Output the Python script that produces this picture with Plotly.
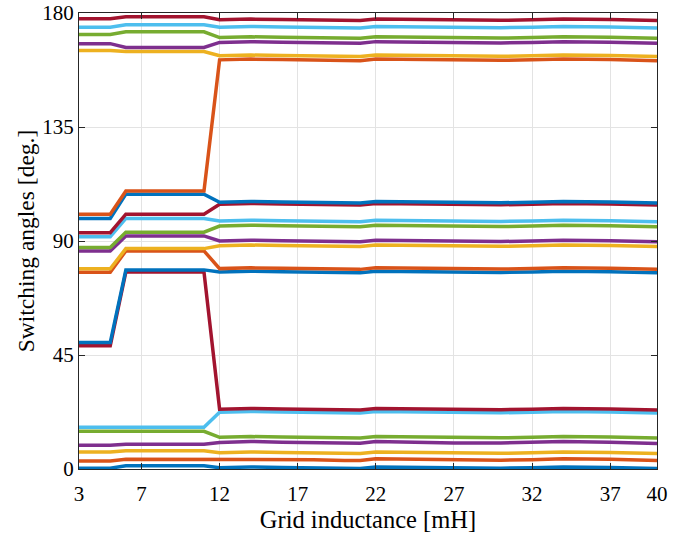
import plotly.graph_objects as go

# Grid inductance sample points [mH]
inductance = [3, 5, 6, 11, 12, 14, 16, 18, 20, 21, 22, 24, 27, 30, 32, 33, 34, 37, 38, 40]

# Switching angles [deg.], one list per angle (alpha_1 ... alpha_21)
alpha_01 = [0.3, 0.3, 1.3, 1.3, 0.5, 0.8, 0.6, 0.5, 0.2, 0.2, 0.8, 0.6, 0.3, 0.3, 0.5, 0.8, 0.8, 0.6, 0.5, 0.2]
alpha_02 = [3.2, 3.2, 3.8, 3.8, 3.7, 4.0, 3.8, 3.7, 3.4, 3.4, 4.0, 3.8, 3.5, 3.5, 3.7, 4.0, 4.0, 3.8, 3.7, 3.4]
alpha_03 = [6.7, 6.7, 7.2, 7.2, 6.4, 6.7, 6.5, 6.4, 6.1, 6.1, 6.7, 6.5, 6.2, 6.2, 6.4, 6.7, 6.7, 6.5, 6.4, 6.1]
alpha_04 = [9.4, 9.4, 9.8, 9.8, 10.5, 10.9, 10.6, 10.5, 10.2, 10.2, 10.9, 10.6, 10.3, 10.3, 10.5, 10.9, 10.9, 10.6, 10.5, 10.1]
alpha_05 = [14.9, 14.9, 14.9, 14.9, 12.5, 12.8, 12.6, 12.5, 12.2, 12.2, 12.8, 12.6, 12.3, 12.3, 12.5, 12.8, 12.8, 12.6, 12.5, 12.2]
alpha_06 = [16.5, 16.5, 16.5, 16.5, 22.4, 22.7, 22.5, 22.4, 22.1, 22.1, 22.7, 22.5, 22.2, 22.2, 22.4, 22.7, 22.7, 22.5, 22.4, 22.1]
alpha_07 = [48.7, 48.7, 77.8, 77.8, 23.6, 23.9, 23.7, 23.6, 23.3, 23.3, 23.9, 23.7, 23.4, 23.4, 23.6, 23.9, 23.9, 23.7, 23.6, 23.3]
alpha_08 = [49.9, 49.9, 78.6, 78.6, 77.8, 78.1, 77.9, 77.8, 77.5, 77.5, 78.1, 77.9, 77.6, 77.6, 77.8, 78.1, 78.1, 77.9, 77.8, 77.5]
alpha_09 = [77.7, 77.7, 86.1, 86.1, 79.1, 79.4, 79.2, 79.1, 78.8, 78.8, 79.4, 79.2, 78.9, 78.9, 79.1, 79.4, 79.4, 79.2, 79.1, 78.8]
alpha_10 = [79.0, 79.0, 87.0, 87.0, 88.1, 88.4, 88.2, 88.1, 87.8, 87.8, 88.4, 88.2, 87.9, 87.9, 88.1, 88.4, 88.4, 88.2, 88.1, 87.8]
alpha_11 = [86.1, 86.1, 92.0, 92.0, 90.0, 90.3, 90.1, 90.0, 89.7, 89.7, 90.3, 90.1, 89.8, 89.8, 90.0, 90.3, 90.3, 90.1, 90.0, 89.7]
alpha_12 = [87.4, 87.4, 93.5, 93.5, 95.9, 96.2, 96.0, 95.9, 95.6, 95.6, 96.2, 96.0, 95.7, 95.7, 95.9, 96.2, 96.2, 96.0, 95.9, 95.6]
alpha_13 = [91.7, 91.7, 98.9, 98.9, 97.9, 98.2, 98.0, 97.9, 97.6, 97.6, 98.2, 98.0, 97.7, 97.7, 97.9, 98.2, 98.2, 98.0, 97.9, 97.6]
alpha_14 = [93.3, 93.3, 100.6, 100.6, 104.5, 104.8, 104.6, 104.5, 104.2, 104.2, 104.8, 104.6, 104.3, 104.3, 104.5, 104.8, 104.8, 104.6, 104.5, 104.2]
alpha_15 = [98.9, 98.9, 108.5, 108.5, 105.3, 105.6, 105.4, 105.3, 105.0, 105.0, 105.6, 105.4, 105.1, 105.1, 105.3, 105.6, 105.6, 105.4, 105.3, 105.0]
alpha_16 = [100.6, 100.6, 109.7, 109.7, 161.5, 161.8, 161.6, 161.5, 161.2, 161.2, 161.8, 161.6, 161.3, 161.3, 161.5, 161.8, 161.8, 161.6, 161.5, 161.2]
alpha_17 = [165.2, 165.2, 164.8, 164.8, 163.1, 163.4, 163.2, 163.1, 162.8, 162.8, 163.4, 163.2, 162.9, 162.9, 163.1, 163.4, 163.4, 163.2, 163.1, 162.8]
alpha_18 = [167.9, 167.9, 166.4, 166.4, 168.4, 168.7, 168.5, 168.4, 168.1, 168.1, 168.7, 168.5, 168.2, 168.2, 168.4, 168.7, 168.7, 168.5, 168.4, 168.1]
alpha_19 = [171.5, 171.5, 172.6, 172.6, 170.3, 170.6, 170.4, 170.3, 170.0, 170.0, 170.6, 170.4, 170.1, 170.1, 170.3, 170.6, 170.6, 170.4, 170.3, 170.0]
alpha_20 = [174.4, 174.4, 175.4, 175.4, 174.4, 174.7, 174.5, 174.4, 174.1, 174.1, 174.7, 174.5, 174.2, 174.2, 174.4, 174.7, 174.7, 174.5, 174.4, 174.1]
alpha_21 = [177.7, 177.7, 178.5, 178.5, 177.3, 177.6, 177.4, 177.3, 177.0, 177.0, 177.6, 177.4, 177.1, 177.1, 177.3, 177.6, 177.6, 177.4, 177.3, 177.0]

angles = [alpha_01, alpha_02, alpha_03, alpha_04, alpha_05, alpha_06, alpha_07,
          alpha_08, alpha_09, alpha_10, alpha_11, alpha_12, alpha_13, alpha_14,
          alpha_15, alpha_16, alpha_17, alpha_18, alpha_19, alpha_20, alpha_21]

x_ticks = [3, 7, 12, 17, 22, 27, 32, 37, 40]
y_ticks = [0, 45, 90, 135, 180]

# MATLAB default colour order
palette = ["#0072BD", "#D95319", "#EDB120", "#7E2F8E", "#77AC30", "#4DBEEE", "#A2142F"]

fig = go.Figure()
for i, a in enumerate(angles):
    fig.add_trace(go.Scatter(
        x=inductance, y=a, mode="lines",
        line=dict(color=palette[i % len(palette)], width=3.5),
        showlegend=False, hoverinfo="skip",
    ))

serif = "Liberation Serif, Times New Roman, serif"
axis_common = dict(
    showline=True, linecolor="#262626", linewidth=1, mirror="ticks",
    ticks="inside", ticklen=6, tickcolor="#262626",
    showgrid=True, gridcolor="#e3e3e3", gridwidth=1, zeroline=False,
    tickfont=dict(family=serif, size=21, color="#000000"),
    automargin=False,
)

fig.update_xaxes(
    range=[3, 40], tickvals=x_ticks, ticktext=[str(t) for t in x_ticks],
    ticklabelstandoff=6,
    title=dict(text="Grid inductance [mH]", font=dict(family=serif, size=24.5, color="#000000"), standoff=4),
    **axis_common,
)
fig.update_yaxes(
    range=[0, 180], tickvals=y_ticks, ticktext=[str(t) for t in y_ticks],
    title=dict(text="Switching angles [deg.]", font=dict(family=serif, size=23.5, color="#000000"), standoff=1),
    **axis_common,
)

fig.update_layout(
    width=683, height=534,
    margin=dict(l=79, r=26, t=13, b=65),
    paper_bgcolor="white", plot_bgcolor="white",
)

fig.write_html("out.html")
